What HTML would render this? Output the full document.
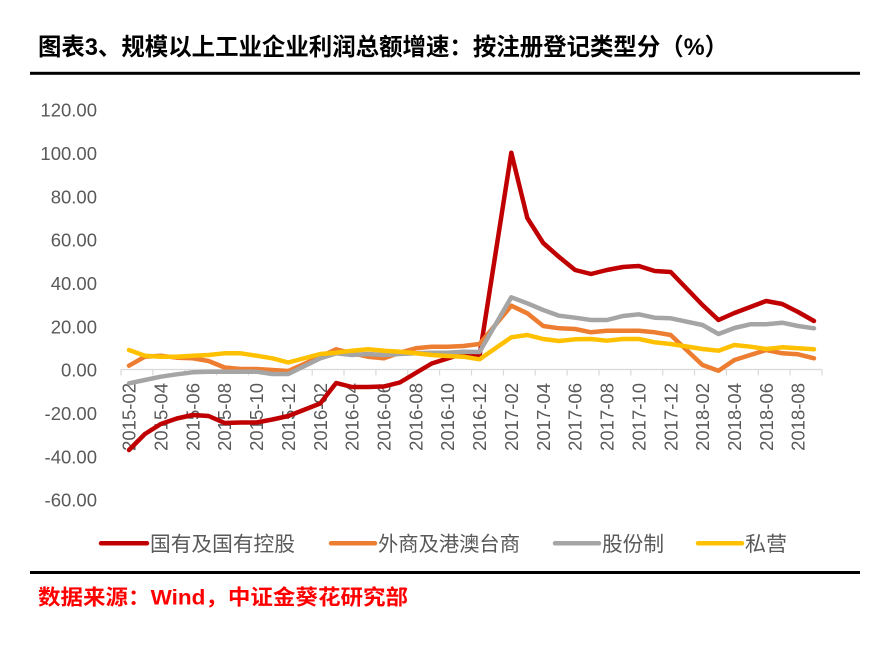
<!DOCTYPE html>
<html>
<head>
<meta charset="utf-8">
<style>
  html,body{margin:0;padding:0;background:#ffffff;}
  svg{display:block;}
  .cjk{font-family:"Liberation Sans","Noto Sans CJK SC",sans-serif;}
  .num{font-family:"Liberation Sans",sans-serif;}
</style>
</head>
<body>
<svg width="870" height="647" viewBox="0 0 870 647" xmlns="http://www.w3.org/2000/svg">
  <rect width="870" height="647" fill="#ffffff"/>

  <!-- Title -->
  <text class="cjk" x="38" y="55" font-size="24" font-weight="bold" fill="#000000" textLength="690" lengthAdjust="spacingAndGlyphs">图表3、规模以上工业企业利润总额增速：按注册登记类型分（%）</text>
  <rect x="30" y="71.8" width="830" height="3" fill="#000000"/>

  <!-- Y axis labels -->
  <g class="num" font-size="18.5" fill="#595959" text-anchor="end">
    <text x="97" y="116.6">120.00</text>
    <text x="97" y="159.9">100.00</text>
    <text x="97" y="203.3">80.00</text>
    <text x="97" y="246.6">60.00</text>
    <text x="97" y="289.9">40.00</text>
    <text x="97" y="333.3">20.00</text>
    <text x="97" y="376.6">0.00</text>
    <text x="97" y="419.9">-20.00</text>
    <text x="97" y="463.3">-40.00</text>
    <text x="97" y="506.6">-60.00</text>
  </g>

  <!-- X axis line & ticks -->
  <line x1="121" y1="369.5" x2="822" y2="369.5" stroke="#d9d9d9" stroke-width="1.2"/>
  <g stroke="#d9d9d9" stroke-width="1.2">
    <line x1="121.0" y1="369.5" x2="121.0" y2="375.5"/>
    <line x1="152.9" y1="369.5" x2="152.9" y2="375.5"/>
    <line x1="184.7" y1="369.5" x2="184.7" y2="375.5"/>
    <line x1="216.6" y1="369.5" x2="216.6" y2="375.5"/>
    <line x1="248.5" y1="369.5" x2="248.5" y2="375.5"/>
    <line x1="280.3" y1="369.5" x2="280.3" y2="375.5"/>
    <line x1="312.2" y1="369.5" x2="312.2" y2="375.5"/>
    <line x1="344.0" y1="369.5" x2="344.0" y2="375.5"/>
    <line x1="375.9" y1="369.5" x2="375.9" y2="375.5"/>
    <line x1="407.8" y1="369.5" x2="407.8" y2="375.5"/>
    <line x1="439.6" y1="369.5" x2="439.6" y2="375.5"/>
    <line x1="471.5" y1="369.5" x2="471.5" y2="375.5"/>
    <line x1="503.4" y1="369.5" x2="503.4" y2="375.5"/>
    <line x1="535.2" y1="369.5" x2="535.2" y2="375.5"/>
    <line x1="567.1" y1="369.5" x2="567.1" y2="375.5"/>
    <line x1="599.0" y1="369.5" x2="599.0" y2="375.5"/>
    <line x1="630.8" y1="369.5" x2="630.8" y2="375.5"/>
    <line x1="662.7" y1="369.5" x2="662.7" y2="375.5"/>
    <line x1="694.5" y1="369.5" x2="694.5" y2="375.5"/>
    <line x1="726.4" y1="369.5" x2="726.4" y2="375.5"/>
    <line x1="758.3" y1="369.5" x2="758.3" y2="375.5"/>
    <line x1="790.1" y1="369.5" x2="790.1" y2="375.5"/>
    <line x1="822.0" y1="369.5" x2="822.0" y2="375.5"/>
  </g>

  <!-- X axis labels (rotated) -->
  <g class="num" font-size="18.5" fill="#595959" text-anchor="end">
    <text transform="translate(135.6,383) rotate(-90)">2015-02</text>
    <text transform="translate(167.4,383) rotate(-90)">2015-04</text>
    <text transform="translate(199.3,383) rotate(-90)">2015-06</text>
    <text transform="translate(231.2,383) rotate(-90)">2015-08</text>
    <text transform="translate(263.0,383) rotate(-90)">2015-10</text>
    <text transform="translate(294.9,383) rotate(-90)">2015-12</text>
    <text transform="translate(326.8,383) rotate(-90)">2016-02</text>
    <text transform="translate(358.6,383) rotate(-90)">2016-04</text>
    <text transform="translate(390.5,383) rotate(-90)">2016-06</text>
    <text transform="translate(422.3,383) rotate(-90)">2016-08</text>
    <text transform="translate(454.2,383) rotate(-90)">2016-10</text>
    <text transform="translate(486.1,383) rotate(-90)">2016-12</text>
    <text transform="translate(517.9,383) rotate(-90)">2017-02</text>
    <text transform="translate(549.8,383) rotate(-90)">2017-04</text>
    <text transform="translate(581.7,383) rotate(-90)">2017-06</text>
    <text transform="translate(613.5,383) rotate(-90)">2017-08</text>
    <text transform="translate(645.4,383) rotate(-90)">2017-10</text>
    <text transform="translate(677.3,383) rotate(-90)">2017-12</text>
    <text transform="translate(709.1,383) rotate(-90)">2018-02</text>
    <text transform="translate(741.0,383) rotate(-90)">2018-04</text>
    <text transform="translate(772.8,383) rotate(-90)">2018-06</text>
    <text transform="translate(804.7,383) rotate(-90)">2018-08</text>
  </g>

  <!-- Series -->
  <g fill="none" stroke-width="4.5" stroke-linejoin="round" stroke-linecap="round">
    <polyline stroke="#C00000" points="129,450 144.9,434 160.8,424 176.8,418.5 192.7,415 208.6,416 224.6,423 240.5,422.5 256.4,422.5 272.4,419.5 288.3,416 320.2,403.5 336.1,383 352,387 368,387 383.9,386.5 399.8,382.5 415.7,373 431.7,363.5 447.6,358.5 463.5,353.5 479.5,356 511.3,152.7 527.3,218 543.2,243 559.1,257 575.1,270 591,274 606.9,270 622.9,267 638.8,266 654.7,271 670.7,272 702.5,305 718.5,320 734.4,313 750.3,307 766.2,301 782.2,304 798.1,312 814,321"/>
    <polyline stroke="#ED7D31" points="129,365.7 144.9,356.7 160.8,355.7 176.8,357.7 192.7,358.3 208.6,361 224.6,367.5 240.5,369 256.4,369 272.4,370 288.3,371 320.2,356.7 336.1,349.3 352,353.3 368,356.7 383.9,358.3 399.8,352.7 415.7,348.3 431.7,346.7 447.6,346.7 463.5,346 479.5,344 511.3,305.7 527.3,313.3 543.2,326 559.1,328.3 575.1,329 591,332.3 606.9,330.7 622.9,330.7 638.8,330.7 654.7,332.3 670.7,335 702.5,365 718.5,370.7 734.4,360 750.3,355 766.2,350 782.2,353.3 798.1,354.3 814,358.3"/>
    <polyline stroke="#A5A5A5" points="129,383.3 144.9,380 160.8,376.7 176.8,374.3 192.7,372.3 208.6,371.7 224.6,371.7 240.5,371.7 256.4,371.7 272.4,374 288.3,374 320.2,358.3 336.1,353.3 352,355 368,354 383.9,355 399.8,354 415.7,353.3 431.7,352.7 447.6,352.7 463.5,351.7 479.5,352 511.3,297.3 527.3,303.3 543.2,310 559.1,315.7 575.1,317.7 591,320 606.9,320 622.9,316 638.8,314.3 654.7,317.7 670.7,318.3 702.5,325 718.5,334 734.4,328 750.3,324.3 766.2,324.3 782.2,322.7 798.1,326 814,328.3"/>
    <polyline stroke="#FFC000" points="129,350 144.9,355.7 160.8,356.7 176.8,356.7 192.7,355.7 208.6,355 224.6,353.3 240.5,353.3 256.4,355.7 272.4,358.3 288.3,362.5 320.2,354 336.1,352.7 352,350.7 368,349.3 383.9,350.7 399.8,351.7 415.7,353.3 431.7,355 447.6,356 463.5,356.7 479.5,359.3 511.3,337.3 527.3,335 543.2,339 559.1,341 575.1,339.3 591,339 606.9,340.7 622.9,339 638.8,339 654.7,342.3 670.7,344 702.5,349 718.5,350.7 734.4,345 750.3,346.7 766.2,349 782.2,347.3 798.1,348.3 814,349.3"/>
  </g>

  <!-- Legend -->
  <g stroke-width="4.5" stroke-linecap="round">
    <line x1="101" y1="543.3" x2="147" y2="543.3" stroke="#C00000"/>
    <line x1="331" y1="543.3" x2="375" y2="543.3" stroke="#ED7D31"/>
    <line x1="555" y1="543.3" x2="599" y2="543.3" stroke="#A5A5A5"/>
    <line x1="698" y1="543.3" x2="742" y2="543.3" stroke="#FFC000"/>
  </g>
  <g class="cjk" font-size="20.7" fill="#595959">
    <text x="150" y="550.8" textLength="145" lengthAdjust="spacingAndGlyphs">国有及国有控股</text>
    <text x="378" y="550.8" textLength="142" lengthAdjust="spacingAndGlyphs">外商及港澳台商</text>
    <text x="602" y="550.8" textLength="62" lengthAdjust="spacingAndGlyphs">股份制</text>
    <text x="745" y="550.8" textLength="42" lengthAdjust="spacingAndGlyphs">私营</text>
  </g>

  <!-- Bottom rule -->
  <rect x="30" y="571" width="830" height="3" fill="#000000"/>

  <!-- Source -->
  <text class="cjk" x="38" y="604.5" font-size="21" font-weight="bold" fill="#FF0000" textLength="370" lengthAdjust="spacingAndGlyphs">数据来源：Wind，中证金葵花研究部</text>
</svg>
</body>
</html>
